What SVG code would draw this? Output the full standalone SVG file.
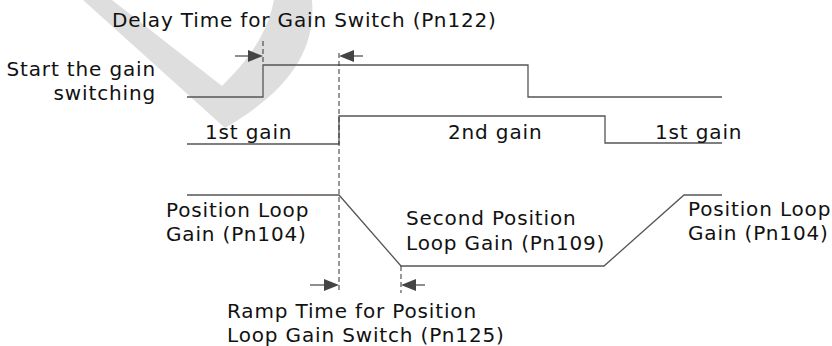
<svg xmlns="http://www.w3.org/2000/svg" width="832" height="346" viewBox="0 0 832 346">
<style>
.t{font-family:"DejaVu Sans",Verdana,sans-serif;font-size:20px;letter-spacing:0.85px;fill:#111}
.s{fill:none;stroke:#555;stroke-width:1.3}
.d{fill:none;stroke:#333;stroke-width:1;stroke-dasharray:5,3}
.a{fill:none;stroke:#444;stroke-width:1.2}
.h{fill:#444}
</style>
<path d="M83 0 L112 0 L222 86 C242 66 266 40 274 0 L312 0 C316 50 290 90 225 128 Z" fill="#dedede"/>
<g id="connectors">
<polyline class="s" points="187,97 263,97 263,65 528,65 528,97 722,97"/>
<polyline class="s" points="187,144 339,144 339,116 605,116 605,143 722,143"/>
<polyline class="s" points="187,195 339,195 401,266 604,266 684,195 722,195"/>
<line class="d" x1="263" y1="41" x2="263" y2="65"/>
<line class="d" x1="339" y1="53" x2="339" y2="293"/>
<line class="d" x1="401" y1="266" x2="401" y2="293"/>
<line class="a" x1="235" y1="56" x2="250" y2="56"/>
<path class="h" d="M263 56 L248 50 L248 62 Z"/>
<line class="a" x1="363" y1="56" x2="352" y2="56"/>
<path class="h" d="M339 56 L354 50 L354 62 Z"/>
<line class="a" x1="310" y1="285" x2="326" y2="285"/>
<path class="h" d="M339 285 L324 279 L324 291 Z"/>
<line class="a" x1="425" y1="285" x2="414" y2="285"/>
<path class="h" d="M401 285 L416 279 L416 291 Z"/>
</g>
<g id="label-delay"><text class="t" x="112" y="27">Delay Time for Gain Switch (Pn122)</text></g>
<g id="label-start"><text class="t" x="156" y="76" text-anchor="end">Start the gain</text><text class="t" x="156" y="100" text-anchor="end">switching</text></g>
<g id="label-1st-a"><text class="t" x="205" y="139">1st gain</text></g>
<g id="label-2nd"><text class="t" x="448" y="139">2nd gain</text></g>
<g id="label-1st-b"><text class="t" x="655" y="139">1st gain</text></g>
<g id="label-pos1"><text class="t" x="166" y="217">Position Loop</text><text class="t" x="166" y="241">Gain (Pn104)</text></g>
<g id="label-pos2"><text class="t" x="406" y="225">Second Position</text><text class="t" x="406" y="250">Loop Gain (Pn109)</text></g>
<g id="label-pos3"><text class="t" x="688" y="216">Position Loop</text><text class="t" x="688" y="240">Gain (Pn104)</text></g>
<g id="label-ramp"><text class="t" x="227" y="318">Ramp Time for Position</text><text class="t" x="227" y="342">Loop Gain Switch (Pn125)</text></g>
</svg>
